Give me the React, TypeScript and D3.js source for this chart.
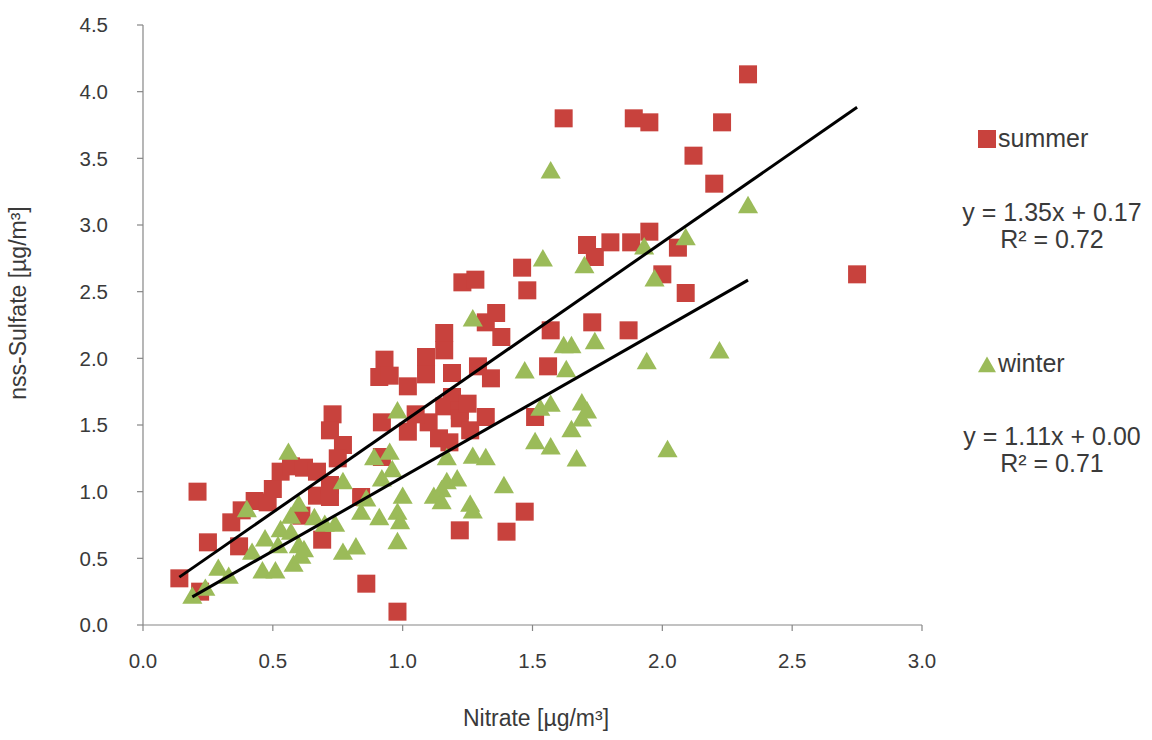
import React from "react";
import * as d3 from "d3";

const summerX = [0.14,0.22,0.21,0.25,0.34,0.37,0.38,0.43,0.48,0.50,0.53,0.57,0.62,0.67,0.67,0.61,0.69,0.72,0.73,0.72,0.77,0.75,0.84,0.86,0.92,0.92,0.93,0.91,0.95,1.02,1.02,1.09,1.09,1.10,1.14,1.16,1.16,1.16,1.19,1.19,1.18,1.22,1.22,1.25,1.26,1.29,1.32,1.34,1.32,1.36,1.38,1.23,1.28,1.46,1.48,1.22,1.40,1.47,1.51,1.56,1.57,1.62,1.71,1.74,1.73,1.80,1.88,1.87,1.89,1.95,1.95,2.00,2.06,2.09,2.12,2.20,2.23,2.33,2.75,0.98,1.05,0.72];
const summerY = [0.35,0.25,1.00,0.62,0.77,0.59,0.86,0.93,0.92,1.02,1.15,1.19,1.18,1.15,0.97,0.82,0.64,1.05,1.58,1.46,1.35,1.25,0.96,0.31,1.26,1.52,1.99,1.86,1.87,1.79,1.45,2.01,1.88,1.52,1.40,1.64,2.19,2.06,1.89,1.71,1.37,1.61,1.55,1.66,1.46,1.94,1.56,1.85,2.27,2.34,2.16,2.57,2.59,2.68,2.51,0.71,0.70,0.85,1.56,1.94,2.21,3.80,2.85,2.76,2.27,2.87,2.87,2.21,3.80,3.77,2.95,2.63,2.83,2.49,3.52,3.31,3.77,4.13,2.63,0.10,1.58,0.96];

const winterX = [0.19,0.24,0.29,0.33,0.40,0.42,0.46,0.47,0.51,0.52,0.53,0.56,0.57,0.57,0.58,0.60,0.60,0.61,0.62,0.66,0.70,0.74,0.77,0.77,0.82,0.84,0.86,0.89,0.91,0.92,0.95,0.96,0.98,0.98,0.99,0.98,1.00,1.12,1.15,1.15,1.17,1.17,1.21,1.26,1.27,1.27,1.27,1.32,1.39,1.47,1.51,1.54,1.53,1.57,1.57,1.57,1.62,1.63,1.65,1.65,1.67,1.69,1.69,1.70,1.71,1.74,1.93,1.94,1.97,2.02,2.09,2.22,2.33];
const winterY = [0.21,0.27,0.42,0.36,0.86,0.54,0.40,0.64,0.40,0.59,0.71,1.29,0.81,0.69,0.45,0.90,0.59,0.51,0.56,0.80,0.75,0.75,0.54,1.07,0.58,0.84,0.94,1.25,0.80,1.09,1.29,1.16,1.60,0.84,0.77,0.62,0.96,0.96,1.01,0.92,1.07,1.25,1.09,0.90,0.85,1.26,2.29,1.25,1.04,1.90,1.37,2.74,1.62,1.65,1.33,3.40,2.09,1.91,2.09,1.46,1.24,1.54,1.66,2.69,1.60,2.12,2.83,1.97,2.59,1.31,2.90,2.05,3.14];

const seriesNames = ["summer", "winter"];
const slopes = [1.35, 1.11];
const intercepts = [0.17, 0.0];
const r2 = [0.72, 0.71];
const xTicks = [0, 0.5, 1.0, 1.5, 2.0, 2.5, 3.0];
const yTicks = [0, 0.5, 1.0, 1.5, 2.0, 2.5, 3.0, 3.5, 4.0, 4.5];

const RED = "#C8423D";
const GREEN = "#9BBB59";
const AXIS = "#868686";
const TEXT = "#3a3a3a";
const FONT = "'Liberation Sans', Arial, sans-serif";

export default function App() {
  const W = 1152, H = 740;
  const x = d3.scaleLinear().domain([0, 3]).range([143, 922]);
  const y = d3.scaleLinear().domain([0, 4.5]).range([625, 25]);
  const sq = 18;
  const triPath = d3.symbol().type(d3.symbolTriangle).size(175)() as string;

  const fitLine = (xs: number[], i: number) => {
    const [mn, mx] = d3.extent(xs) as [number, number];
    const line = d3.line<number>().x((v) => x(v)).y((v) => y(slopes[i] * v + intercepts[i]));
    return line([mn, mx]) as string;
  };

  const summer = summerX.map((v, i) => [v, summerY[i]]);
  const winter = winterX.map((v, i) => [v, winterY[i]]);

  return (
    <svg width={W} height={H} style={{ position: "absolute", left: 0, top: 0, background: "#fff" }} fontFamily={FONT}>
      {/* axes */}
      <line x1={x(0)} x2={x(0)} y1={y(4.5)} y2={y(0)} stroke={AXIS} strokeWidth={1.2} />
      <line x1={x(0)} x2={x(3)} y1={y(0)} y2={y(0)} stroke={AXIS} strokeWidth={1.2} />
      {yTicks.map((t) => (
        <g key={"y" + t}>
          <line x1={x(0) - 6} x2={x(0)} y1={y(t)} y2={y(t)} stroke={AXIS} strokeWidth={1.2} />
          <text x={108} y={y(t)} dy="0.36em" textAnchor="end" fontSize={20.5} fill={TEXT}>{t.toFixed(1)}</text>
        </g>
      ))}
      {xTicks.map((t) => (
        <g key={"x" + t}>
          <line x1={x(t)} x2={x(t)} y1={y(0)} y2={y(0) + 6} stroke={AXIS} strokeWidth={1.2} />
          <text x={x(t)} y={668} textAnchor="middle" fontSize={20.5} fill={TEXT}>{t.toFixed(1)}</text>
        </g>
      ))}
      <text x={536} y={726} textAnchor="middle" fontSize={23} fill={TEXT}>Nitrate [µg/m³]</text>
      <text transform={`translate(26,${303}) rotate(-90)`} textAnchor="middle" fontSize={23} fill={TEXT}>nss-Sulfate [µg/m³]</text>

      {/* summer markers */}
      {summer.map((d, i) => (
        <rect key={"s" + i} x={x(d[0]) - sq / 2} y={y(d[1]) - sq / 2} width={sq} height={sq} fill={RED} />
      ))}
      {/* winter markers */}
      {winter.map((d, i) => (
        <path key={"w" + i} d={triPath} transform={`translate(${x(d[0])},${y(d[1]) + 1})`} fill={GREEN} />
      ))}
      {/* trend lines */}
      <path d={fitLine(summerX, 0)} stroke="#000" strokeWidth={3} fill="none" />
      <path d={fitLine(winterX, 1)} stroke="#000" strokeWidth={3} fill="none" />

      {/* legend */}
      <rect x={978} y={130} width={18} height={18} fill={RED} />
      <text x={998} y={147} fontSize={25} fill={TEXT}>{seriesNames[0]}</text>
      <text x={1052} y={221} textAnchor="middle" fontSize={25} fill={TEXT}>{`y = ${slopes[0].toFixed(2)}x + ${intercepts[0].toFixed(2)}`}</text>
      <text x={1052} y={248} textAnchor="middle" fontSize={25} fill={TEXT}>{`R² = ${r2[0].toFixed(2)}`}</text>
      <path d={d3.symbol().type(d3.symbolTriangle).size(140)() as string} transform="translate(987,367)" fill={GREEN} />
      <text x={998} y={372} fontSize={25} fill={TEXT}>{seriesNames[1]}</text>
      <text x={1052} y={445} textAnchor="middle" fontSize={25} fill={TEXT}>{`y = ${slopes[1].toFixed(2)}x + ${intercepts[1].toFixed(2)}`}</text>
      <text x={1052} y={472} textAnchor="middle" fontSize={25} fill={TEXT}>{`R² = ${r2[1].toFixed(2)}`}</text>
    </svg>
  );
}
